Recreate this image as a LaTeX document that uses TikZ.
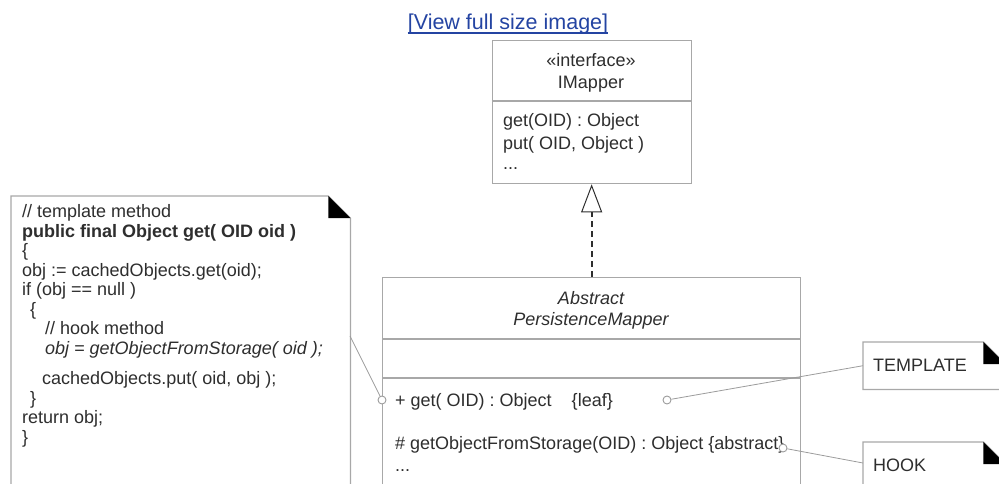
\documentclass[tikz,border=0pt]{standalone}
\usepackage{fontspec}
\setmainfont{Liberation Sans}
\usetikzlibrary{arrows.meta,positioning}
\definecolor{ink}{HTML}{2E2E2E}
\definecolor{edge}{HTML}{A8A8A8}
\definecolor{wire}{HTML}{9C9C9C}
\definecolor{linkblue}{HTML}{2444A2}

% black dog-ear on the upper right corner of a note node
\newcommand{\dogear}[1]{%
  \draw[draw=edge, line width=1.2pt, fill=white] (#1.north west) -- ([xshift=-22pt]#1.north east)
    -- ([yshift=-22pt]#1.north east) -- (#1.south east) -- (#1.south west) -- cycle;
  \fill[black] ([xshift=-22pt]#1.north east) -- ([xshift=-22pt,yshift=-22pt]#1.north east)
    -- ([yshift=-22pt]#1.north east) -- cycle;
}

\begin{document}
\begin{tikzpicture}[x=1pt, y=-1pt,
  >=Stealth,
  umlbox/.style={draw=edge, line width=1.3pt, fill=white, anchor=north west, inner sep=0pt},
  notebox/.style={anchor=north west, inner sep=0pt},
  txt/.style={text=ink, font=\fontsize{18}{19.5}\selectfont, inner sep=0pt},
  pin/.style={circle, draw=wire, fill=white, line width=0.9pt, minimum size=8pt, inner sep=0pt},
  wireline/.style={draw=wire, line width=0.8pt},
  divider/.style={draw=edge, line width=1.3pt},
]
\useasboundingbox (0,0) rectangle (999,483);

% link on top
\node[text=linkblue, font=\fontsize{21.5}{24}\selectfont, inner sep=0pt, anchor=base] (fulllink) at (508,29.5) {[View full size image]};
\draw[linkblue, line width=1.2pt] ([yshift=-3.5pt]fulllink.base west) -- ([yshift=-3.5pt]fulllink.base east);

% interface IMapper
\node[umlbox, minimum width=199pt, minimum height=143pt] (imapper) at (491.5,40) {};
\draw[divider] ([yshift=-61pt]imapper.north west) -- ([yshift=-61pt]imapper.north east);
\node[txt, anchor=base] (istereo) at (591,66) {«interface»};
\node[txt, anchor=base] (iname) at (591,88.5) {IMapper};
\node[txt, anchor=base west] (iget) at (503,126.5) {get(OID) : Object};
\node[txt, anchor=base west] (iput) at (503,149.5) {put( OID, Object )};
\node[txt, anchor=base west] (imore) at (503,169) {...};

% abstract class
\node[umlbox, minimum width=418pt, minimum height=230pt] (absmapper) at (382,277) {};
\draw[divider] ([yshift=-62pt]absmapper.north west) -- ([yshift=-62pt]absmapper.north east);
\draw[divider] ([yshift=-101pt]absmapper.north west) -- ([yshift=-101pt]absmapper.north east);
\node[txt, anchor=base] (aname1) at (591,304.5) {\itshape Abstract};
\node[txt, anchor=base] (aname2) at (591,325.5) {\itshape PersistenceMapper};
\node[txt, anchor=base west] (aget) at (395,406.5) {+ get( OID) : Object \ \ \ \{leaf\}};
\node[txt, anchor=base west] (ahook) at (395,449.5) {\# getObjectFromStorage(OID) : Object \{abstract\}};
\node[txt, anchor=base west] (amore) at (395,471) {...};

% realization
\draw[draw=ink, line width=1.7pt, dash pattern=on 6pt off 4pt,
  -{Triangle[open, length=28pt, width=21pt, line width=1pt]}] (absmapper.north) -- (imapper.south);

% code note
\node[notebox, minimum width=339pt, minimum height=310pt] (codenote) at (11,196) {};
\dogear{codenote}
\node[txt, anchor=north west, align=left] (codetext) at (22,204.5) {%
// template method\\
\textbf{public final Object get( OID oid )}\\
\{\\
obj := cachedObjects.get(oid);\\
if (obj == null )\\
\hspace*{8pt}\{\\
\hspace*{23pt}// hook method\\
\hspace*{23pt}\itshape obj = getObjectFromStorage( oid );\\[11pt]
\hspace*{20pt}cachedObjects.put( oid, obj );\\
\hspace*{8pt}\}\\
return obj;\\
\}};

% TEMPLATE and HOOK notes
\node[notebox, minimum width=142pt, minimum height=47pt] (tmplnote) at (863,342) {};
\dogear{tmplnote}
\node[txt, anchor=base west] (tmpltext) at (873,371.5) {TEMPLATE};
\node[notebox, minimum width=142pt, minimum height=60pt] (hooknote) at (863,442) {};
\dogear{hooknote}
\node[txt, anchor=base west] (hooktext) at (873,471.5) {HOOK};

% pins and connectors
\coordinate (codeTip) at (350,336);
\coordinate (hookTip) at (863,463);
\node[pin] (pinGetL) at (382,400) {};
\node[pin] (pinGetR) at (667,400) {};
\node[pin] (pinHook) at (783,448) {};
\draw[wireline] (codeTip) -- (pinGetL);
\draw[wireline] (pinGetR) -- (tmplnote.west);
\draw[wireline] (pinHook) -- (hookTip);

\end{tikzpicture}
\end{document}
